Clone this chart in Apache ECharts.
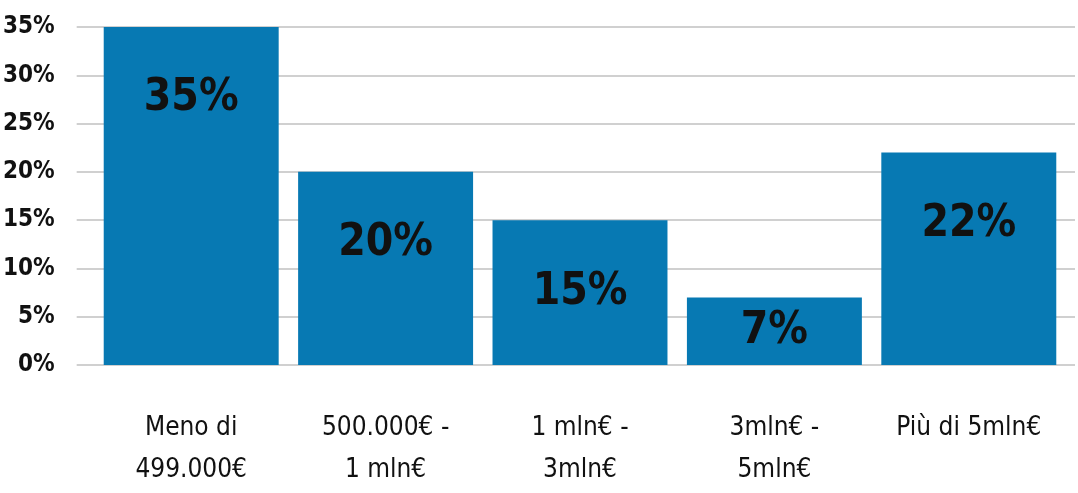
<!DOCTYPE html>
<html>
<head>
<meta charset="utf-8">
<script src="https://cdn.jsdelivr.net/npm/echarts@6/dist/echarts.min.js"></script>
<style>
html,body{margin:0;padding:0;background:#fff;}
#chart{width:1078px;height:493px;}
</style>
</head>
<body>
<div id="chart"></div>
<script>
const categories = ['Meno di\n499.000€', '500.000€ -\n1 mln€', '1 mln€ -\n3mln€', '3mln€ -\n5mln€', 'Più di 5mln€'];
const values = [35, 20, 15, 7, 22];
const yTicks = { min: 0, max: 35, interval: 5 };

const FONT = "'DejaVu Sans Condensed', 'Liberation Sans Narrow', sans-serif";
const chart = echarts.init(document.getElementById('chart'));
chart.setOption({
  animation: false,
  grid: [
    { left: 94, right: 12, top: 27, bottom: 128 },
    { left: 75, right: 3, top: 27, bottom: 128 }
  ],
  xAxis: [{
    type: 'category',
    gridIndex: 0,
    data: categories,
    axisTick: { show: false },
    axisLine: { show: false },
    axisLabel: {
      fontFamily: FONT, fontSize: 26, color: '#111', margin: 42, lineHeight: 42, interval: 0
    }
  }, {
    type: 'value', gridIndex: 1, show: false
  }],
  yAxis: [{
    type: 'value', gridIndex: 0,
    min: yTicks.min, max: yTicks.max, interval: yTicks.interval,
    show: false, splitLine: { show: false }
  }, {
    type: 'value', gridIndex: 1,
    min: yTicks.min, max: yTicks.max, interval: yTicks.interval,
    axisLine: { show: false },
    axisTick: { show: false },
    splitLine: { lineStyle: { color: '#c0c0c0', width: 1.5 } },
    axisLabel: {
      formatter: '{value}%', fontFamily: FONT, fontWeight: 'bold', fontSize: 24, color: '#111', margin: 22
    }
  }],
  series: [{
    type: 'bar',
    xAxisIndex: 0, yAxisIndex: 0,
    data: values.map(v => ({
      value: v,
      label: { position: v < 10 ? 'inside' : 'insideTop' }
    })),
    barCategoryGap: '10%',
    itemStyle: { color: '#0779b3' },
    z: 3,
    label: {
      show: true, distance: 50, formatter: '{c}%',
      fontFamily: FONT, fontWeight: 'bold', fontSize: 44, color: '#111'
    }
  }]
});
</script>
</body>
</html>
